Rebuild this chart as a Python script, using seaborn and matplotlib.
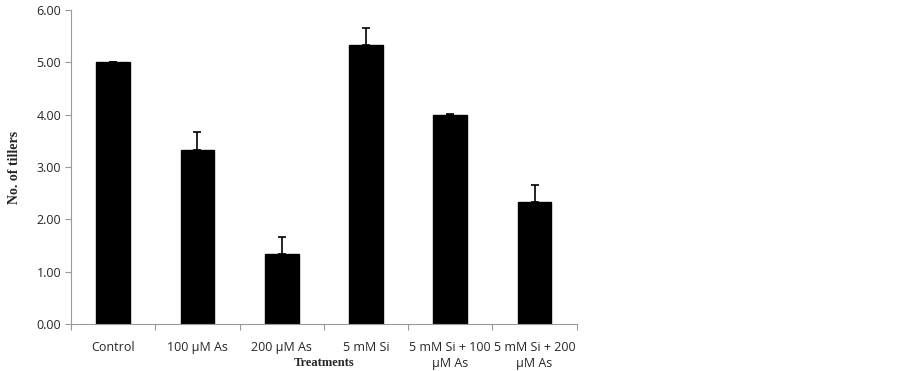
#!/usr/bin/env python3

import matplotlib
matplotlib.use("Agg")
import matplotlib.pylab as plt
import numpy as np
import pandas as pd
import seaborn as sns
from matplotlib.ticker import FixedLocator, FormatStrFormatter

# Values
treatments = [
    "Control",
    "100 \u00b5M As",
    "200 \u00b5M As",
    "5 mM Si",
    "5 mM Si + 100\n\u00b5M As",
    "5 mM Si + 200\n\u00b5M As",
]
tillers = [5.00, 3.33, 1.33, 5.33, 4.00, 2.33]
tiller_err = [0.01, 0.33, 0.33, 0.33, 0.01, 0.33]

sns.set_theme(style="white")
plt.rcParams["font.family"] = ["Open Sans", "DejaVu Sans"]

df = pd.DataFrame({"treatment": treatments, "tillers": tillers})

fig = plt.figure(figsize=(9.03, 3.71), dpi=100)
ax = fig.add_axes([0.0786, 0.127, 0.560, 0.846])

sns.barplot(
    df,
    ax=ax,
    x="treatment",
    y="tillers",
    color="black",
    width=0.4,
    errorbar=None,
    saturation=1,
)
for patch in ax.patches:
    patch.set_edgecolor("black")

# one-sided error bars (upper only)
pos = np.arange(len(treatments))
ax.errorbar(
    pos,
    tillers,
    yerr=[np.zeros(len(tiller_err)), tiller_err],
    fmt="none",
    ecolor="black",
    elinewidth=1.2,
    capsize=3,
    capthick=1.2,
)

ax.set_xlim(-0.5, len(treatments) - 0.5)
ax.set_ylim(0, 6)
ax.yaxis.set_major_locator(FixedLocator(np.arange(0, 6.01, 1)))
ax.yaxis.set_major_formatter(FormatStrFormatter("%.2f"))

# category separators as major ticks, labels on minor ticks
ax.xaxis.set_major_locator(FixedLocator(np.arange(-0.5, len(treatments), 1)))
ax.xaxis.set_minor_locator(FixedLocator(pos))
ax.set_xticklabels([], minor=False)
ax.set_xticklabels(treatments, minor=True, fontsize=9, linespacing=1.3)
ax.tick_params(axis="x", which="major", length=4, width=0.8, color="#999999",
               direction="out", bottom=True)
ax.tick_params(axis="x", which="minor", length=0, pad=12)
ax.tick_params(axis="y", length=4, width=0.8, color="#999999", direction="out",
               left=True, labelsize=9, pad=3)

for side in ["top", "right"]:
    ax.spines[side].set_visible(False)
for side in ["left", "bottom"]:
    ax.spines[side].set_color("#999999")
    ax.spines[side].set_linewidth(0.8)

ax.set_xlabel("Treatments", fontsize=9, fontweight="bold",
              family="Liberation Serif", labelpad=-9)
ax.set_ylabel("No. of tillers", fontsize=10, fontweight="bold",
              family="Liberation Serif", labelpad=11)

plt.savefig("out.png", dpi=100)
plt.clf()
